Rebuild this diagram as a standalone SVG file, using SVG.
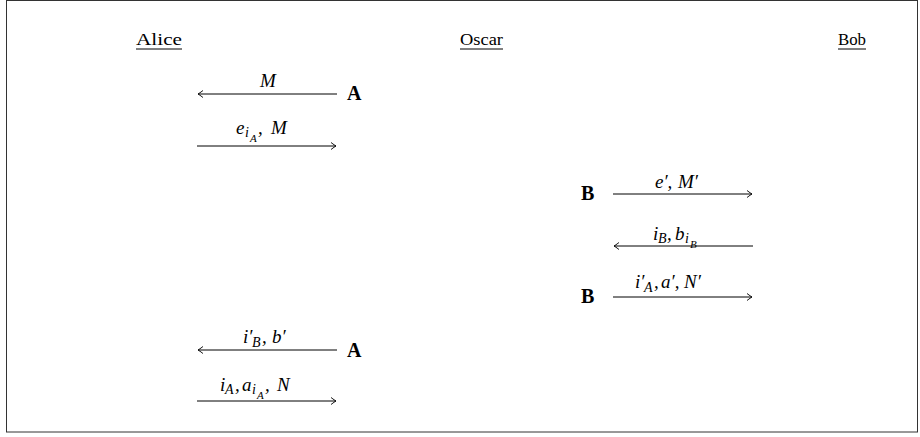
<svg xmlns="http://www.w3.org/2000/svg" width="920" height="437" viewBox="0 0 920 437">
<style>
.hdr{font-family:"Liberation Serif","DejaVu Serif",serif;font-size:17px;fill:#000}
.ul{stroke:#000;stroke-width:1}
.bold{font-family:"Liberation Serif","DejaVu Serif",serif;font-size:20px;font-weight:bold;fill:#000}
.m{font-family:"Liberation Serif","DejaVu Serif",serif;font-size:19px;font-style:italic;fill:#000}
.s{font-size:14px}
.ss{font-size:11px}
.ln{stroke:#000;stroke-width:1;fill:none}
</style>
<defs>
<marker id="ah" markerWidth="10" markerHeight="10" refX="0" refY="0" viewBox="-6 -5 8 10" orient="auto" markerUnits="userSpaceOnUse">
<path d="M-5,-3.5 Q-1.5,-0.8 0,0 Q-1.5,0.8 -5,3.5" fill="none" stroke="#000" stroke-width="0.9"/>
</marker>
</defs>
<rect x="6.5" y="0.5" width="911" height="431.5" fill="#fff" stroke="#333" stroke-width="1"/>
<g id="alice">
<text class="hdr" x="136" y="45" textLength="46" lengthAdjust="spacingAndGlyphs">Alice</text>
<line class="ul" x1="136" y1="49" x2="182" y2="49"/>
</g>
<g id="oscar">
<text class="hdr" x="460" y="45" textLength="43" lengthAdjust="spacingAndGlyphs">Oscar</text>
<line class="ul" x1="460" y1="49" x2="503" y2="49"/>
</g>
<g id="bob">
<text class="hdr" x="838" y="45" textLength="28" lengthAdjust="spacingAndGlyphs">Bob</text>
<line class="ul" x1="838" y1="49" x2="866" y2="49"/>
</g>
<g id="a1"><text class="bold" x="347" y="100">A</text></g>
<g id="b1"><text class="bold" x="581" y="200">B</text></g>
<g id="b2"><text class="bold" x="581" y="303">B</text></g>
<g id="a2"><text class="bold" x="347" y="357">A</text></g>
<g id="connectors">
<line class="ln" x1="337" y1="94" x2="198" y2="94" marker-end="url(#ah)"/>
<text class="m" x="268" y="87" text-anchor="middle">M</text>
<line class="ln" x1="197" y1="146" x2="336" y2="146" marker-end="url(#ah)"/>
<text class="m" y="134"><tspan x="236">e</tspan><tspan class="s" x="245" dy="3">i</tspan><tspan class="ss" x="250" dy="5">A</tspan><tspan x="258" dy="-8">,</tspan><tspan x="271">M</tspan></text>
<line class="ln" x1="613" y1="194" x2="752" y2="194" marker-end="url(#ah)"/>
<text class="m" y="188"><tspan x="655">e′,</tspan><tspan x="678">M′</tspan></text>
<line class="ln" x1="753" y1="246" x2="614" y2="246" marker-end="url(#ah)"/>
<text class="m" y="240"><tspan x="653">i</tspan><tspan class="s" x="658" dy="3">B</tspan><tspan x="667" dy="-3">,</tspan><tspan x="675">b</tspan><tspan class="s" x="685" dy="3">i</tspan><tspan class="ss" x="690" dy="5">B</tspan></text>
<line class="ln" x1="613" y1="297" x2="752" y2="297" marker-end="url(#ah)"/>
<text class="m" y="288"><tspan x="635">i′</tspan><tspan class="s" x="644" dy="4">A</tspan><tspan x="654" dy="-4">,</tspan><tspan x="661">a′,</tspan><tspan x="684">N′</tspan></text>
<line class="ln" x1="337" y1="350" x2="198" y2="350" marker-end="url(#ah)"/>
<text class="m" y="343"><tspan x="243">i′</tspan><tspan class="s" x="252" dy="4">B</tspan><tspan x="262" dy="-4">,</tspan><tspan x="272">b′</tspan></text>
<line class="ln" x1="197" y1="401" x2="336" y2="401" marker-end="url(#ah)"/>
<text class="m" y="391"><tspan x="220">i</tspan><tspan class="s" x="225" dy="3">A</tspan><tspan x="235" dy="-3">,</tspan><tspan x="242">a</tspan><tspan class="s" x="252" dy="3">i</tspan><tspan class="ss" x="257" dy="5">A</tspan><tspan x="265" dy="-8">,</tspan><tspan x="277">N</tspan></text>
</g>
</svg>
